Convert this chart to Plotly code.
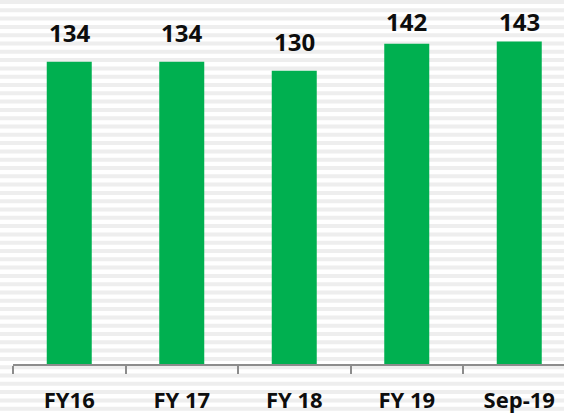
import plotly.graph_objects as go

# Categories and values
periods = ["FY16", "FY 17", "FY 18", "FY 19", "Sep-19"]
values = [134, 134, 130, 142, 143]

W, H = 564, 415
M_L, M_B = 13, 51
PLOT_W = W - M_L
PLOT_H = H - M_B
PX_PER_UNIT = 2.256
Y_MAX = PLOT_H / PX_PER_UNIT

fig = go.Figure(
    go.Bar(
        x=periods,
        y=values,
        marker=dict(color="#00B050", line=dict(width=0)),
        hoverinfo="skip",
    )
)

# Value labels above each bar, kept inside the top of the chart
label_cap = (PLOT_H - 21) / PX_PER_UNIT
for p, v in zip(periods, values):
    fig.add_annotation(
        x=p, y=min(v + 29 / PX_PER_UNIT, label_cap), text=f"<b>{v}</b>",
        showarrow=False, yanchor="middle",
        font=dict(family="Open Sans", size=24, color="#0d0d0d"),
    )

# Light horizontal striped background
shapes = []
period_px = 8.3
n = int(H / period_px) + 2
for i in range(n):
    top = i * period_px
    bot = top + 4
    shapes.append(dict(
        type="rect", xref="paper", yref="paper", layer="below",
        x0=-M_L / PLOT_W, x1=1.0,
        y0=(PLOT_H - bot) / PLOT_H, y1=(PLOT_H - top) / PLOT_H,
        fillcolor="#eeeeee", line=dict(width=0),
    ))

fig.update_layout(
    width=W, height=H,
    margin=dict(l=M_L, r=0, t=0, b=M_B, pad=0),
    paper_bgcolor="white", plot_bgcolor="rgba(0,0,0,0)",
    bargap=0.6, showlegend=False, shapes=shapes,
)
fig.update_xaxes(
    range=[-0.5, -0.5 + PLOT_W / 112.5],
    showline=True, linecolor="#8c8c8c", linewidth=1.5,
    ticks="outside", tickson="boundaries", ticklen=8,
    tickcolor="#8c8c8c", tickwidth=1.5,
    showgrid=False,
    tickfont=dict(family="Open Sans", size=22, color="#0d0d0d", weight="bold"),
    ticklabelstandoff=16,
)
fig.update_yaxes(range=[0, Y_MAX], visible=False, showgrid=False)

fig.write_html("out.html")
